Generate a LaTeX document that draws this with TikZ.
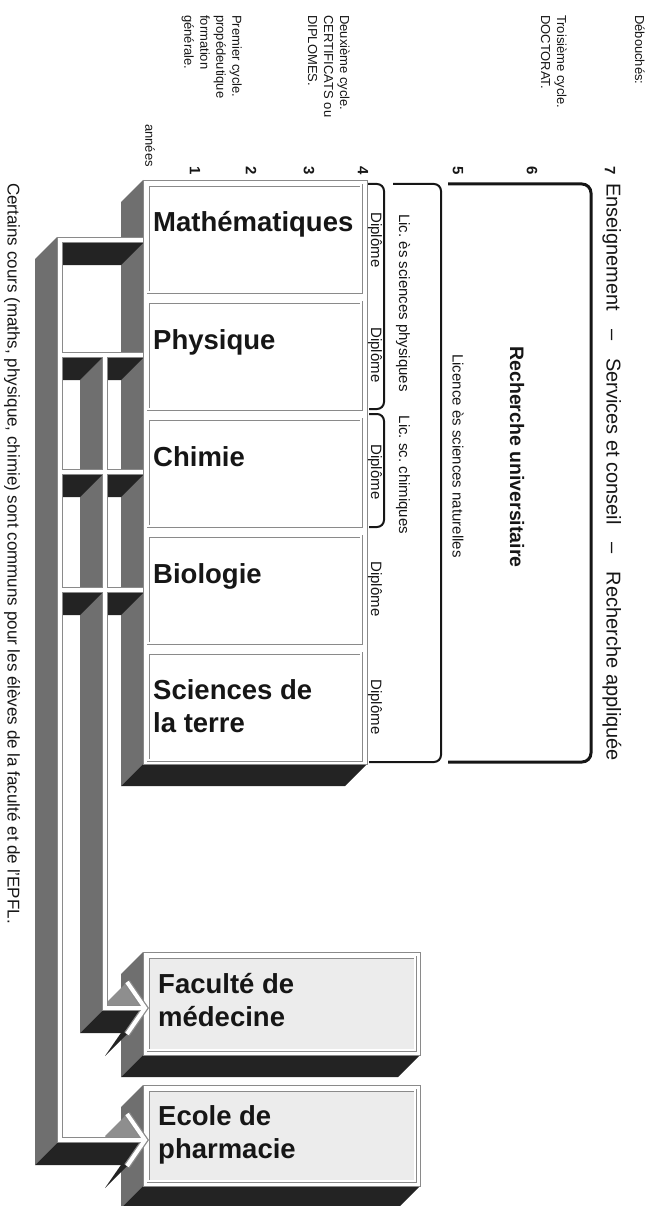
\documentclass[tikz,border=0pt]{standalone}
\usepackage{fontspec}
\setmainfont{Liberation Sans}
\usetikzlibrary{calc}
\frenchspacing
\definecolor{ink}{HTML}{161616}
\definecolor{face}{HTML}{6F6F6F}
\definecolor{barbface}{HTML}{8E8E8E}
\definecolor{under}{HTML}{232323}
\definecolor{rim}{HTML}{8A8A8A}
\definecolor{wash}{HTML}{ECECEC}
\tikzset{
  lbl/.style={font=\fontsize{13}{16}\selectfont, text=ink, inner sep=0pt,
              align=left, rotate=-90},
  num/.style={font=\bfseries\fontsize{15}{15}\selectfont, text=ink,
              inner sep=0pt, rotate=-90},
  side/.style={font=\fontsize{15}{15}\selectfont, text=ink, inner sep=0pt,
               rotate=-90},
  field/.style={font=\bfseries\fontsize{27.5}{33}\selectfont, text=ink,
                inner sep=0pt, align=left, anchor=base west},
  %
  slab/.style={draw=rim, line width=0.8pt, fill=white},
  card/.style={draw=rim, line width=0.8pt, double=white, double distance=2pt,
               inner sep=0pt, anchor=north west},
  brace/.style={draw=ink, line width=2pt, rounded corners=7pt},
  %
  pipeedge/.style={draw=rim, line width=6.5pt},
  pipecore/.style={draw=white, line width=4pt},
}

\begin{document}
\begin{tikzpicture}[x=1pt, y=-1pt]
\useasboundingbox (0,0) rectangle (657,1206);
\clip (0,0) rectangle (657,1206);

% =========================================================================
% headings
\node[lbl, anchor=north west] (debouches) at (645,15) {Débouchés:};
\node[lbl, anchor=north west] (cycle3) at (567,15) {Troisième cycle.\\DOCTORAT.};
\node[lbl, anchor=north west] (cycle2) at (350,15)
  {Deuxième cycle.\\CERTIFICATS ou\\DIPLOMES.};
\node[lbl, anchor=north west] (cycle1) at (242,15)
  {Premier cycle.\\propédeutique\\formation\\générale.};
\node[lbl, anchor=east] (annees) at (150,167) {années};
\foreach \n/\x in {1/195, 2/251, 3/309, 4/363, 5/458, 6/532, 7/610}
  \node[num] (an\n) at (\x,171) {\n};

% =========================================================================
% side faces of the slabs
\fill[face]  (143,180) -- (143,764) -- (121,786) -- (121,202) -- cycle;
\fill[under] (143,764) -- (367,764) -- (345,786) -- (121,786) -- cycle;
\fill[face]  (143,952) -- (143,1055) -- (121,1077) -- (121,974) -- cycle;
\fill[under] (143,1055) -- (420,1055) -- (398,1077) -- (121,1077) -- cycle;
\fill[face]  (143,1085) -- (143,1186) -- (121,1208) -- (121,1107) -- cycle;
\fill[under] (143,1186) -- (420,1186) -- (398,1208) -- (121,1208) -- cycle;

% top faces of the slabs
\draw[slab] (143,180) rectangle (367,764);
\draw[slab] (143,952) rectangle (420,1055);
\draw[slab] (143,1085) rectangle (420,1186);

% =========================================================================
% disciplines
\node[card, fill=white, minimum width=213, minimum height=107] (math) at (148,185) {};
\node[card, fill=white, minimum width=213, minimum height=107] (phys) at (148,302) {};
\node[card, fill=white, minimum width=213, minimum height=107] (chim) at (148,419) {};
\node[card, fill=white, minimum width=213, minimum height=107] (bio)  at (148,536) {};
\node[card, fill=white, minimum width=213, minimum height=107] (geo)  at (148,653) {};
\node[field] (mathT) at ($(math.north west)+(5,47)$) {Mathématiques};
\node[field] (physT) at ($(phys.north west)+(5,47)$) {Physique};
\node[field] (chimT) at ($(chim.north west)+(5,47)$) {Chimie};
\node[field] (bioT)  at ($(bio.north west)+(5,47)$) {Biologie};
\node[field] (geoT)  at ($(geo.north west)+(5,79)$) {Sciences de\\la terre};

\node[card, fill=wash, minimum width=267, minimum height=93] (med) at (148,957) {};
\node[card, fill=wash, minimum width=267, minimum height=91] (pha) at (148,1090) {};
\node[field] (medT) at ($(med.north west)+(10,69)$) {Faculté de\\médecine};
\node[field] (phaT) at ($(pha.north west)+(10,68)$) {Ecole de\\pharmacie};

% =========================================================================
% pipes: side faces
\fill[face] (57,237) -- (57,1143) -- (35,1165) -- (35,259) -- cycle;
\fill[face] (102,358) -- (102,1011) -- (80,1033) -- (80,380) -- cycle;
\fill[under] (63,243) -- (143,243) -- (121,265) -- (63,265) -- cycle;
\foreach \y in {358,475,593} {
  \fill[under] (63,\y) -- (102,\y) -- (80,\y+22) -- (63,\y+22) -- cycle;
  \fill[under] (108,\y) -- (143,\y) -- (121,\y+22) -- (108,\y+22) -- cycle;
}
% arrow heads
\foreach \t in {1008,1140} {
  \fill[barbface] (127,\t-26) -- (145,\t) -- (123,\t+22) -- (105,\t-4) -- cycle;
  \fill[under] (145,\t) -- (127,\t+26) -- (105,\t+48) -- (123,\t+22) -- cycle;
}
\fill[under] (102,1011) -- (141,1011) -- (126,1033) -- (80,1033) -- cycle;
\fill[under] (57,1143) -- (141,1143) -- (126,1165) -- (35,1165) -- cycle;

% pipes: top faces
\foreach \s in {pipeedge, pipecore} {
  \draw[\s] (143,240) -- (60,240) -- (60,1140) -- (143,1140);
  \draw[\s] (105,355) -- (105,1008) -- (143,1008);
  \foreach \y in {355,472,590}
    \draw[\s] (60,\y) -- (143,\y);
  \draw[\s] (127,982) -- (145,1008) -- (127,1034);
  \draw[\s] (127,1114) -- (145,1140) -- (127,1166);
}

% =========================================================================
% diplomas and degrees
\foreach \y [count=\i] in {240,355,472,589,707}
  \node[side] (dipl\i) at (375,\y) {Diplôme};

\draw[brace] (368,184) -- (384,184) -- (384,409) -- (369,409);
\draw[brace] (369,414) -- (384,414) -- (384,527) -- (369,527);
\draw[brace] (393,184) -- (441,184) -- (441,762) -- (369,762);
\draw[brace, line width=3pt, rounded corners=9pt]
  (448,184) -- (591,184) -- (591,762) -- (448,762);

\node[side] (licphys) at (403,303) {Lic. ès sciences physiques};
\node[side] (licchim) at (403,475) {Lic. sc. chimiques};
\node[side] (licnat) at (458,456) {Licence ès sciences naturelles};
\node[side, font=\bfseries\fontsize{19.5}{20}\selectfont] (recherche) at (517,457)
  {Recherche universitaire};
\node[side, font=\fontsize{20}{20}\selectfont, anchor=west] (issues) at (612,183)
  {Enseignement\hspace{0.9em}--\hspace{0.9em}Services et conseil\hspace{0.9em}--\hspace{0.9em}Recherche appliquée};

% =========================================================================
\node[side, font=\fontsize{17}{17}\selectfont, anchor=west] (note) at (12,183)
  {Certains cours (maths, physique, chimie) sont communs pour les élèves de la faculté et de l'EPFL.};

\end{tikzpicture}
\end{document}
